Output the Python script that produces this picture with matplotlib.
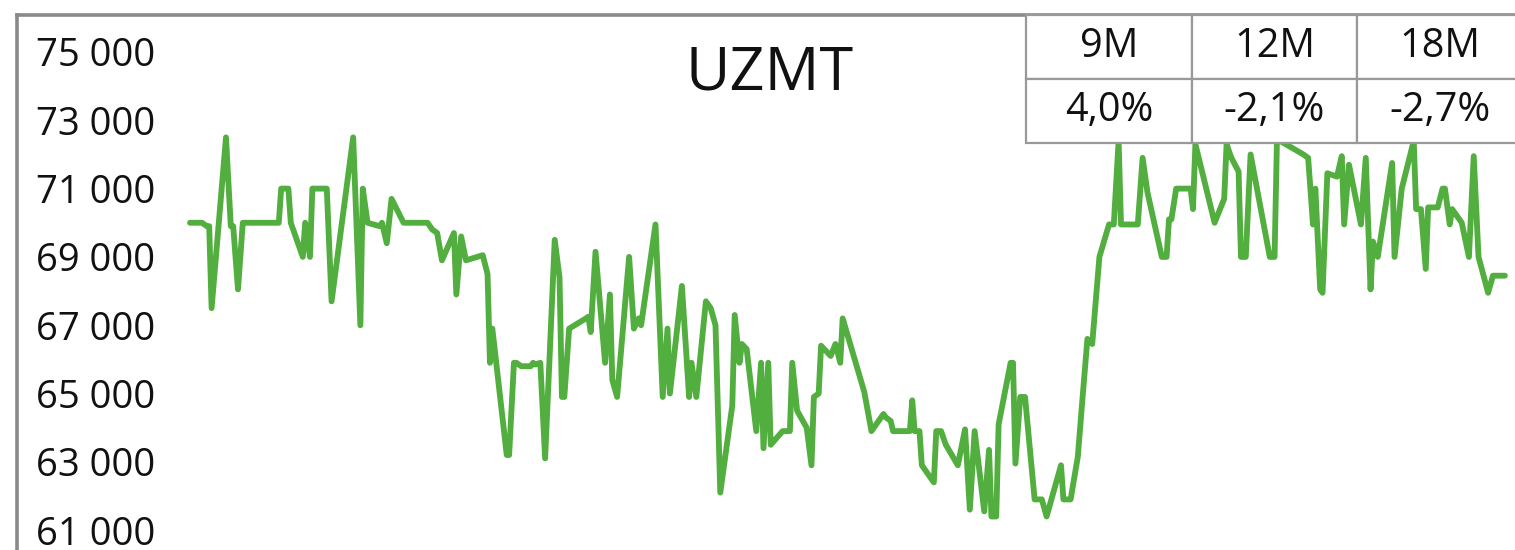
import matplotlib
matplotlib.use("Agg")
import matplotlib.pyplot as plt
from matplotlib.ticker import FuncFormatter

plt.rcParams['font.family'] = ['Open Sans', 'DejaVu Sans']

# ---- data ----
title = "UZMT"
days = [0, 5, 7, 8, 9, 15, 17, 18, 20, 22, 37, 38, 41, 42, 47, 48, 50, 51, 57, 59,
        68, 71, 72, 74, 79, 80, 82, 84, 89, 99, 101, 103, 105, 110, 111, 113, 115, 122, 124, 125,
        126, 132, 133, 135, 136, 138, 142, 143, 144, 146, 148, 152, 154, 155, 156, 158, 165, 166, 167, 169,
        173, 175, 176, 178, 183, 185, 187, 188, 194, 197, 199, 200, 205, 208, 209, 211, 215, 217, 219, 221,
        226, 227, 229, 230, 232, 236, 238, 239, 241, 242, 247, 250, 251, 253, 257, 259, 260, 262, 263, 267,
        269, 271, 272, 281, 284, 289, 290, 292, 293, 300, 301, 302, 304, 305, 310, 311, 313, 315, 320, 323,
        325, 327, 331, 333, 334, 336, 337, 342, 343, 344, 346, 348, 352, 355, 357, 363, 364, 367, 370, 372,
        374, 376, 379, 383, 385, 387, 388, 395, 397, 399, 405, 407, 408, 409, 411, 417, 418, 419, 427, 431,
        432, 434, 437, 438, 440, 442, 450, 452, 453, 464, 466, 468, 469, 471, 472, 474, 478, 480, 481, 483,
        488, 490, 492, 493, 495, 501, 502, 505, 510, 511, 513, 515, 516, 520, 522, 523, 525, 526, 530, 533,
        535, 537, 541, 543, 548]
prices = [70000, 70000, 69900, 69900, 67500, 72500, 69900, 69900, 68050, 70000, 70000, 71000, 71000, 70000, 69000, 70000, 69000, 71000, 71000, 67700,
          72500, 67000, 71000, 70000, 69900, 70000, 69400, 70700, 70000, 70000, 69800, 69700, 68900, 69700, 67900, 69600, 68900, 69050, 68500, 65900,
          66900, 63200, 63200, 65900, 65900, 65800, 65800, 65900, 65850, 65900, 63100, 69500, 68400, 64900, 64900, 66900, 67200, 67250, 66800, 69150,
          65900, 67900, 65400, 64900, 69000, 66900, 67200, 67000, 69950, 64900, 66900, 65000, 68150, 64900, 65900, 64900, 67700, 67500, 67000, 62100,
          64650, 67300, 65900, 66450, 66300, 63900, 65900, 63400, 65900, 63500, 63900, 63900, 65900, 64500, 64000, 62900, 64900, 65000, 66400, 66100,
          66450, 65900, 67200, 65050, 63900, 64400, 64300, 64200, 63900, 63900, 64800, 63900, 63900, 62900, 62400, 63900, 63900, 63500, 62900, 63950,
          61600, 63900, 61550, 63350, 61400, 61400, 64100, 65900, 65900, 62950, 64900, 64900, 61900, 61900, 61400, 62900, 61900, 61900, 63150, 64900,
          66600, 66450, 69000, 69950, 69950, 72400, 69950, 69950, 71900, 70900, 69000, 69000, 70100, 70100, 71000, 71000, 70400, 72300, 70000, 70700,
          72300, 71900, 71500, 69000, 69000, 72000, 69000, 69000, 72450, 72000, 71900, 69950, 71000, 68050, 67950, 71450, 71350, 71950, 69950, 71700,
          69950, 71900, 68050, 69450, 69000, 71750, 69000, 71000, 72400, 70400, 70400, 68650, 70450, 70450, 71000, 71000, 69950, 70400, 70000, 69000,
          71950, 69000, 67950, 68450, 68450]
y_ticks = [61000, 63000, 65000, 67000, 69000, 71000, 73000, 75000]
periods = ["9M", "12M", "18M"]
returns = ["4,0%", "-2,1%", "-2,7%"]

# ---- figure ----
W, H = 1515, 550
fig = plt.figure(figsize=(W / 100, H / 100), dpi=100)
ax = fig.add_axes([17 / W, 0, (W - 17) / W, (H - 15) / H])

green = "#52ae3e"
ax.plot(days, prices, color=green, lw=4.2, solid_joinstyle='round', solid_capstyle='round', zorder=3)

ax.set_xlim(-72.1, 552.2)
ax.set_ylim(60419, 76083)
ax.set_yticks(y_ticks)
ax.yaxis.set_major_formatter(FuncFormatter(lambda v, p: f"{int(v):,}".replace(",", " ")))
ax.tick_params(axis='y', length=0, pad=-99.5, labelsize=27.5, labelcolor='#111111')
for lbl in ax.get_yticklabels():
    lbl.set_horizontalalignment('right')
ax.set_xticks([])

frame_col = "#8a8a8a"
for s in ['right', 'bottom']:
    ax.spines[s].set_visible(False)
for s in ['left', 'top']:
    ax.spines[s].set_color(frame_col)
    ax.spines[s].set_linewidth(2.6)

ax.text(0.508, 1 - 73 / H, title, transform=fig.transFigure, ha='center', va='center',
        fontsize=44, color='#111111')

# ---- table ----
tx0, tx1, ty0, ty1 = 1026, 1523, 15, 143
tax = fig.add_axes([tx0 / W, (H - ty1) / H, (tx1 - tx0) / W, (ty1 - ty0) / H])
tax.axis('off')
tbl = tax.table(cellText=[returns], colLabels=periods, bbox=[0, 0, 1, 1], cellLoc='center')
tbl.auto_set_font_size(False)
for (r, c), cell in tbl.get_celld().items():
    cell.set_edgecolor('#999999')
    cell.set_linewidth(1.6)
    cell.set_facecolor('white')
    cell.get_text().set_fontsize(28.5)
    cell.get_text().set_color('#111111')

fig.savefig("out.png", dpi=100)
